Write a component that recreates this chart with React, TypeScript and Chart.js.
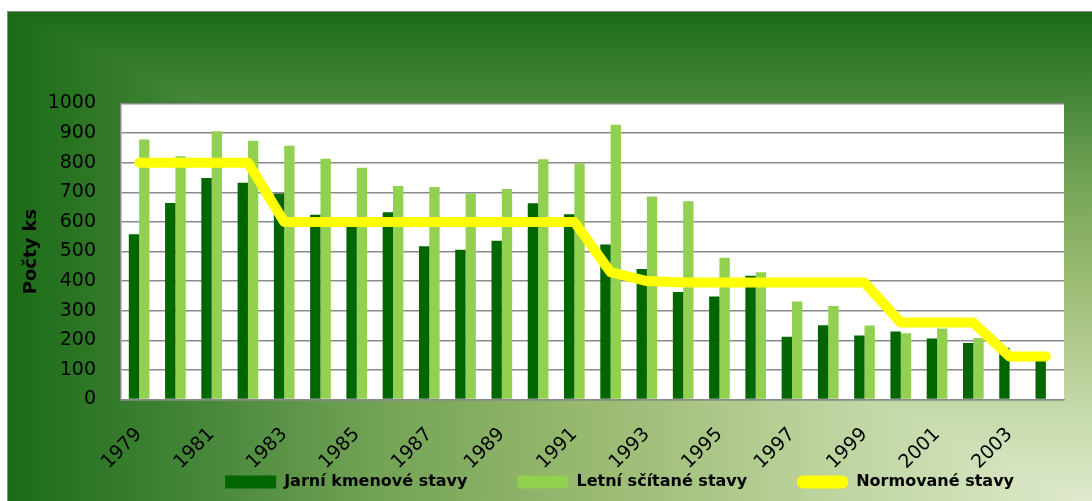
import React, { useEffect, useRef } from 'react';
import { Chart, registerables } from 'chart.js';

Chart.register(...registerables);

const years = ['1979', '1980', '1981', '1982', '1983', '1984', '1985', '1986', '1987', '1988', '1989', '1990', '1991', '1992', '1993', '1994', '1995', '1996', '1997', '1998', '1999', '2000', '2001', '2002', '2003', '2004'];
const jarniKmenove = [558, 664, 748, 732, 696, 624, 590, 633, 518, 506, 536, 663, 626, 524, 441, 363, 348, 418, 212, 251, 216, 230, 206, 191, 175, 130];
const letniSecitane = [878, 822, 906, 874, 857, 813, 783, 721, 718, 696, 711, 812, 797, 928, 686, 670, 479, 430, 331, 316, 250, 224, 240, 208, null, null];
const normovane = [800, 800, 800, 800, 600, 600, 600, 600, 600, 600, 600, 600, 600, 430, 400, 395, 395, 395, 395, 395, 395, 260, 260, 260, 145, 145];
const seriesNames = ['Jarní kmenové stavy', 'Letní sčítané stavy', 'Normované stavy'];
const yAxisTitle = 'Počty ks';

const FONT = 'DejaVu Sans';

const stops: [number, string][] = [
  [0, '#dfeacd'],
  [0.25, '#bcd39d'],
  [0.45, '#9bbb73'],
  [0.65, '#75a457'],
  [0.82, '#46873a'],
  [1, '#1b6b17'],
];

const backgroundPlugin = {
  id: 'bgPlugin',
  afterLayout(chart: any) {
    // let the rotated year labels extend below the (compact) x-axis box without clipping
    const x = chart.scales.x;
    if (x) x.bottom = chart.height;
  },
  beforeDraw(chart: any) {
    const { ctx, width: W, height: H, chartArea } = chart;
    ctx.save();
    const gv = ctx.createLinearGradient(0, H, 0, 0);
    stops.forEach(([t, c]) => gv.addColorStop(t, c));
    ctx.fillStyle = gv;
    ctx.fillRect(0, 0, W, H);
    const gh = ctx.createLinearGradient(W, 0, 0, 0);
    stops.forEach(([t, c]) => gh.addColorStop(t, c));
    ctx.beginPath();
    ctx.moveTo(0, 0);
    ctx.lineTo(0, H);
    ctx.lineTo(W, H);
    ctx.closePath();
    ctx.fillStyle = gh;
    ctx.fill();
    ctx.fillStyle = '#ffffff';
    ctx.fillRect(chartArea.left, chartArea.top, chartArea.right - chartArea.left, chartArea.bottom - chartArea.top);
    ctx.restore();
  },
};

export default function App() {
  const ref = useRef<HTMLCanvasElement>(null);

  useEffect(() => {
    if (!ref.current) return;
    const chart = new Chart(ref.current, {
      type: 'bar',
      data: {
        labels: years,
        datasets: [
          {
            type: 'bar',
            label: seriesNames[0],
            data: jarniKmenove,
            backgroundColor: '#006600',
            borderWidth: 0,
            categoryPercentage: 0.57,
            barPercentage: 1.0,
            order: 1,
          },
          {
            type: 'bar',
            label: seriesNames[1],
            data: letniSecitane,
            backgroundColor: '#92d050',
            borderWidth: 0,
            categoryPercentage: 0.57,
            barPercentage: 1.0,
            order: 1,
          },
          {
            type: 'line',
            label: seriesNames[2],
            data: normovane,
            borderColor: '#ffff00',
            backgroundColor: '#ffff00',
            borderWidth: 10,
            pointRadius: 0,
            pointHoverRadius: 0,
            tension: 0,
            borderJoinStyle: 'round',
            borderCapStyle: 'round',
            order: 0,
          } as any,
        ],
      },
      options: {
        responsive: false,
        animation: false,
        devicePixelRatio: 1,
        layout: { padding: { top: 91.5, right: 28, bottom: 1, left: 0 } },
        font: { family: FONT },
        scales: {
          x: {
            type: 'category',
            offset: true,
            grid: { display: false, drawTicks: false },
            border: { display: true, color: '#8a8a8a', width: 1.5 },
            ticks: {
              autoSkip: false,
              minRotation: 45,
              maxRotation: 45,
              padding: 24,
              color: '#000000',
              font: { family: FONT, size: 19 },
              callback: (_v: any, i: number) => (i % 2 === 0 ? years[i] : ''),
            },
            afterFit: (scale: any) => {
              scale.height = 24.5;
            },
          },
          y: {
            min: 0,
            max: 1000,
            grid: { color: '#8a8a8a', lineWidth: 1.5, drawTicks: false },
            border: { display: true, color: '#8a8a8a', width: 1.5 },
            ticks: {
              stepSize: 100,
              padding: 25,
              color: '#000000',
              font: { family: FONT, size: 19 },
              callback: (v: any) => String(v),
            },
            title: {
              display: true,
              text: yAxisTitle,
              color: '#000000',
              font: { family: FONT, size: 18, weight: 'bold' },
              padding: { top: 13, bottom: 0 },
            },
            afterFit: (scale: any) => {
              scale.width = 113;
            },
          },
        },
        plugins: {
          tooltip: { enabled: false },
          legend: {
            display: true,
            position: 'bottom',
            align: 'end',
            labels: {
              boxWidth: 51,
              boxHeight: 13,
              padding: 50,
              color: '#000000',
              font: { family: FONT, size: 16, weight: 'bold' },
              generateLabels: (c: any) => {
                const items = (Chart.defaults.plugins.legend.labels as any).generateLabels(c);
                items.forEach((it: any) => {
                  it.lineWidth = 0;
                  if (it.datasetIndex === 2) {
                    it.fillStyle = '#ffff00';
                    it.strokeStyle = '#ffff00';
                    it.borderRadius = 6;
                  }
                });
                return items.sort((a: any, b: any) => a.datasetIndex - b.datasetIndex);
              },
            },
          },
        },
      },
      plugins: [backgroundPlugin],
    } as any);
    return () => chart.destroy();
  }, []);

  return (
    <div
      style={{
        position: 'absolute',
        left: 7,
        top: 11,
        width: 1085,
        height: 490,
        boxSizing: 'border-box',
        borderTop: '1px solid #8c8c8c',
        borderLeft: '1px solid #8c8c8c',
      }}
    >
      <canvas ref={ref} width={1084} height={489} style={{ display: 'block' }} />
    </div>
  );
}
